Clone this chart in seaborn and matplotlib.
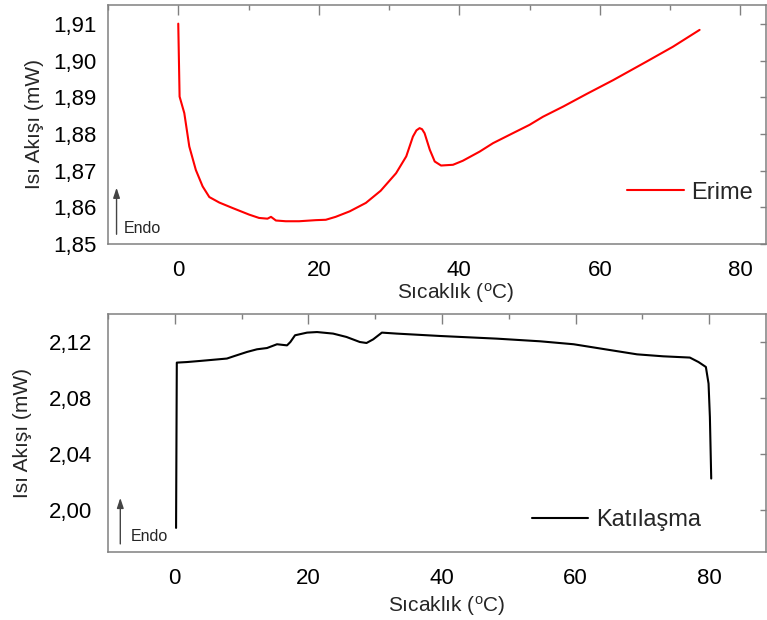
import seaborn as sns
import pandas as pd
import matplotlib.pyplot as plt
from matplotlib.ticker import MultipleLocator, FuncFormatter

# Erime (melting) curve
erime_sicaklik = [0.0, 0.19, 0.86, 1.57, 2.5, 3.47, 4.42, 5.84, 7.74, 10.1, 11.5, 12.7, 13.2,
                  13.9, 15.3, 17.2, 19.6, 21.0, 22.4, 24.4, 26.7, 28.8, 31.0, 32.45, 33.4,
                  33.9, 34.35, 34.7, 35.06, 35.8, 36.5, 37.4, 39.1, 40.5, 42.9, 44.8, 47.6,
                  50.0, 51.9, 54.8, 58.1, 61.9, 66.6, 70.4, 74.2]
erime_akis = [1.9101, 1.8902, 1.8857, 1.8766, 1.8702, 1.8657, 1.8628, 1.8613, 1.8598, 1.8580,
              1.8571, 1.8569, 1.8574, 1.8564, 1.8562, 1.8562, 1.8565, 1.8566, 1.8574, 1.8589,
              1.8612, 1.8645, 1.8693, 1.8739, 1.8793, 1.8810, 1.8816, 1.8813, 1.8802, 1.8757,
              1.8725, 1.8714, 1.8716, 1.8727, 1.8752, 1.8775, 1.8802, 1.8825, 1.8847, 1.8875,
              1.8909, 1.8947, 1.8997, 1.9038, 1.9084]

# Katilasma (solidification) curve
kat_sicaklik = [0.19, 0.3, 1.8, 3.8, 7.8, 8.8, 10.8, 12.3, 13.8, 15.3, 16.8, 17.3, 18.0, 19.8,
                21.3, 23.7, 25.7, 27.7, 28.7, 29.7, 31.0, 33.2, 39.7, 48.2, 54.7, 59.7, 64.7,
                69.2, 73.1, 77.1, 78.4, 79.5, 79.9, 80.1, 80.3]
kat_akis = [1.9874, 2.1053, 2.1057, 2.1065, 2.1082, 2.1098, 2.1129, 2.1148, 2.1157, 2.1184,
            2.1176, 2.1200, 2.1248, 2.1267, 2.1271, 2.1260, 2.1236, 2.1200, 2.1193, 2.1219,
            2.1267, 2.1260, 2.1243, 2.1224, 2.1205, 2.1184, 2.1146, 2.1112, 2.1098, 2.1089,
            2.1057, 2.1022, 2.0903, 2.0665, 2.0226]

sns.set_style('white')
plt.rcParams['font.family'] = ['Liberation Sans', 'DejaVu Sans']
plt.rcParams['mathtext.fontset'] = 'custom'
plt.rcParams['mathtext.rm'] = 'Liberation Sans'

gri = '#808080'
virgul = FuncFormatter(lambda v, p: f"{v:.2f}".replace('.', ','))
xlabel = 'Sıcaklık ($\\mathregular{^{o}}$C)'
ylabel = 'Isı Akışı (mW)'


def eksen_ayarla(ax, xlim, ylim, ymajor, yminor, ypad):
    ax.set_xlim(*xlim)
    ax.set_ylim(*ylim)
    ax.xaxis.set_major_locator(MultipleLocator(20))
    ax.xaxis.set_minor_locator(MultipleLocator(10))
    ax.yaxis.set_major_locator(MultipleLocator(ymajor))
    ax.yaxis.set_minor_locator(MultipleLocator(yminor))
    ax.yaxis.set_major_formatter(virgul)
    for s in ax.spines.values():
        s.set_visible(True)
        s.set_color(gri)
        s.set_linewidth(1.1)
    ax.tick_params(which='major', direction='out', length=6.5, width=1, color=gri,
                   labelsize=16, labelcolor='black')
    ax.tick_params(which='minor', direction='out', length=3.5, width=1, color=gri)
    ax.tick_params(axis='x', which='major', pad=5)
    ax.tick_params(axis='y', which='major', pad=ypad)
    # ticks on top and right point inwards
    top = ax.secondary_xaxis('top')
    top.xaxis.set_major_locator(MultipleLocator(20))
    top.xaxis.set_minor_locator(MultipleLocator(10))
    top.tick_params(which='major', direction='in', length=7.5, width=1, color=gri, labeltop=False)
    top.tick_params(which='minor', direction='in', length=3.5, width=1, color=gri)
    top.spines['top'].set_visible(False)
    right = ax.secondary_yaxis('right')
    right.yaxis.set_major_locator(MultipleLocator(ymajor))
    right.tick_params(which='major', direction='in', length=4, width=1, color=gri, labelright=False)
    right.spines['right'].set_visible(False)
    ax.set_xlabel(xlabel, fontsize=15)
    ax.set_ylabel(ylabel, fontsize=15)


fig = plt.figure(figsize=(7.67, 6.2), dpi=100)
ax1 = fig.add_axes([0.1408, 0.6065, 0.8579, 0.3855])
ax2 = fig.add_axes([0.1408, 0.1092, 0.8579, 0.3844])

df1 = pd.DataFrame({'Sıcaklık': erime_sicaklik, 'Akış': erime_akis})
df2 = pd.DataFrame({'Sıcaklık': kat_sicaklik, 'Akış': kat_akis})

sns.lineplot(data=df1, x='Sıcaklık', y='Akış', ax=ax1, color='red', linewidth=1.5,
             sort=False, estimator=None, label='Erime')
sns.lineplot(data=df2, x='Sıcaklık', y='Akış', ax=ax2, color='black', linewidth=1.5,
             sort=False, estimator=None, label='Katılaşma')

eksen_ayarla(ax1, (-10, 83.65), (1.85, 1.9152), 0.01, 0.005, 1.5)
eksen_ayarla(ax2, (-10, 88.5), (1.97, 2.14), 0.04, 0.02, 5)

ax1.xaxis.set_label_coords(0.529, -0.155)
ax1.yaxis.set_label_coords(-0.097, 0.5)
ax2.xaxis.set_label_coords(0.514, -0.175)
ax2.yaxis.set_label_coords(-0.115, 0.5)

ax1.legend(loc='center left', bbox_to_anchor=(0.789, 0.215), frameon=False, fontsize=17,
           handlelength=2.4, handletextpad=0.33, borderpad=0, borderaxespad=0)
ax2.legend(loc='center left', bbox_to_anchor=(0.644, 0.1355), frameon=False, fontsize=17,
           handlelength=2.4, handletextpad=0.33, borderpad=0, borderaxespad=0)

# Endo arrows
ok = dict(arrowstyle='-|>,head_length=0.6,head_width=0.2', color='#444444', lw=1.0)
ax1.annotate('', xy=(0.013, 0.247), xytext=(0.013, 0.029), xycoords='axes fraction',
             arrowprops=ok)
ax1.text(0.0243, 0.064, 'Endo', transform=ax1.transAxes, fontsize=11.5, va='center')
ax2.annotate('', xy=(0.0187, 0.240), xytext=(0.0187, 0.0235), xycoords='axes fraction',
             arrowprops=ok)
ax2.text(0.0343, 0.0655, 'Endo', transform=ax2.transAxes, fontsize=11.5, va='center')

plt.savefig('out.png', dpi=100)
